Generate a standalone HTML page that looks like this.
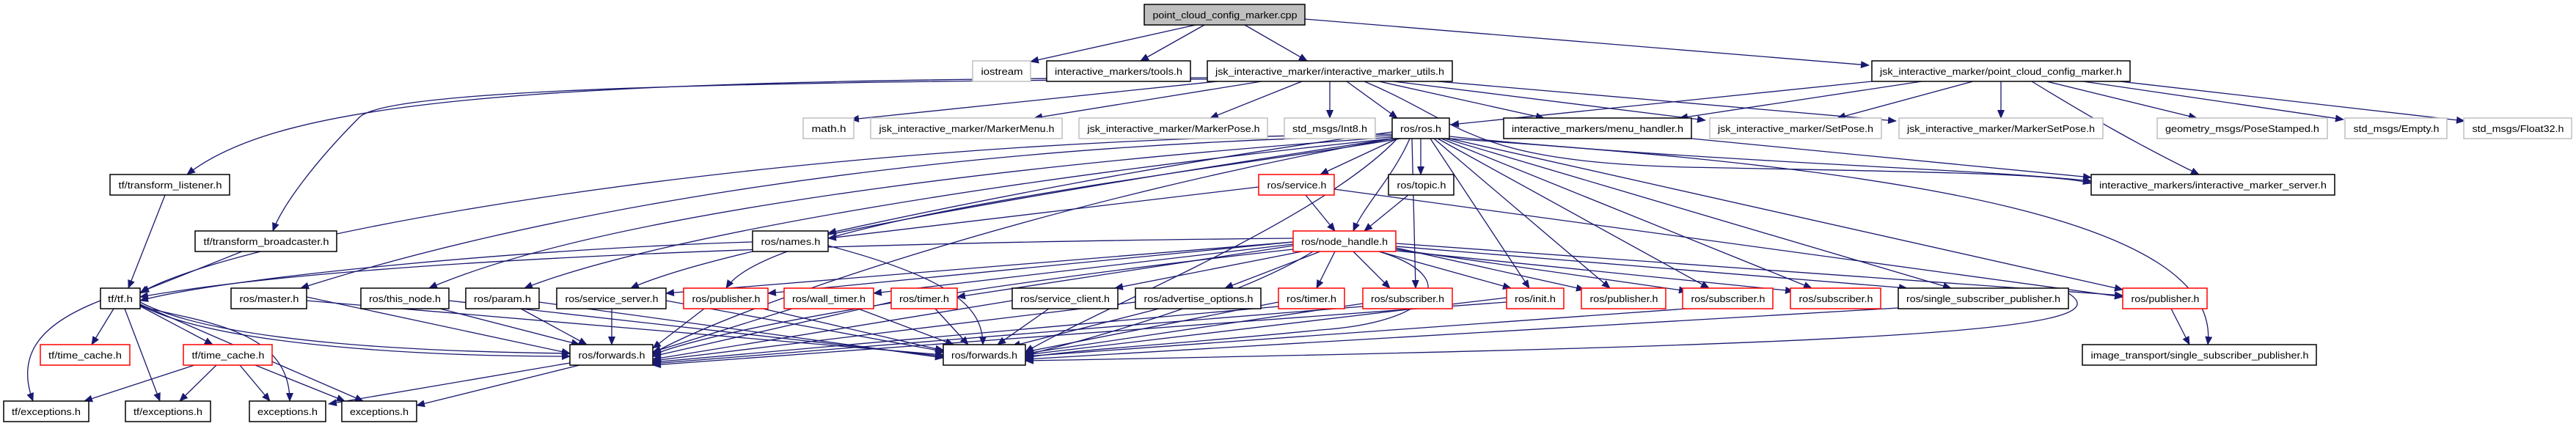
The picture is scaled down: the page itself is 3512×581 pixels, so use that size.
<!DOCTYPE html>
<html><head><meta charset="utf-8"><style>
html,body{margin:0;padding:0;background:#fff;}
svg{display:block}
text{font-family:"Liberation Sans",sans-serif;font-size:13px;fill:#000}
.e{fill:none;stroke:#191970;stroke-width:1.3;marker-end:url(#ar)}
.k{fill:#fff;stroke:#000;stroke-width:1.5}
.r{fill:#fff;stroke:#ff0000;stroke-width:1.5}
.g{fill:#fff;stroke:#bfbfbf;stroke-width:1.5}
</style></head><body>
<svg width="3512" height="581" viewBox="0 0 3512 581" xmlns="http://www.w3.org/2000/svg">
<defs><marker id="ar" markerWidth="12" markerHeight="10" refX="11" refY="5" orient="auto" markerUnits="userSpaceOnUse"><path d="M0,0 L12,5 L0,10 z" fill="#191970"/></marker></defs>
<g>
<!-- top edges -->
<path class="e" d="M1630,34 L1405,84"/>
<path class="e" d="M1642,34 L1555,83"/>
<path class="e" d="M1697,34 L1782,83"/>
<path class="e" d="M1779,26 L2548,89"/>
<path class="e" d="M1646,106 C700,108 380,140 255,238"/>
<path class="e" d="M1646,108 C800,112 520,130 490,160 C430,220 385,280 372,315"/>
<path class="e" d="M1660,111 L1160,163"/>
<path class="e" d="M1720,111 L1410,161"/>
<path class="e" d="M1775,111 L1650,161"/>
<path class="e" d="M1813,111 L1813,161"/>
<path class="e" d="M1836,111 L1905,161"/>
<path class="e" d="M1880,111 L2105,161"/>
<path class="e" d="M1900,111 L2325,164"/>
<path class="e" d="M1960,111 L2585,165"/>
<path class="e" d="M1860,111 C2000,170 2000,220 2300,228 C2600,234 2800,236 2851,250"/>
<path class="e" d="M2552,111 L1978,170"/>
<path class="e" d="M2620,111 L2290,161"/>
<path class="e" d="M2690,111 L2505,161"/>
<path class="e" d="M2728,111 L2728,161"/>
<path class="e" d="M2790,111 L2995,161"/>
<path class="e" d="M2840,111 L3195,163"/>
<path class="e" d="M2890,111 L3360,165"/>
<path class="e" d="M2770,111 C2850,160 2920,200 2998,238"/>
<path class="e" d="M2306,189 L2851,242"/>
<!-- tf -->
<path class="e" d="M225,266 L175,393"/>
<path class="e" d="M330,343 L192,398"/>
<path class="e" d="M155,421 L125,470"/>
<path class="e" d="M190,417 L290,470"/>
<path class="e" d="M137,410 C60,440 20,480 45,547"/>
<path class="e" d="M170,421 L218,547"/>
<path class="e" d="M191,418 C280,440 395,450 395,547"/>
<path class="e" d="M191,415 L495,547"/>
<path class="e" d="M191,412 C300,470 600,480 777,482"/>
<path class="e" d="M191,416 C300,474 600,486 777,486"/>
<path class="e" d="M265,498 L115,547"/>
<path class="e" d="M295,498 L245,547"/>
<path class="e" d="M327,498 L368,547"/>
<path class="e" d="M348,498 L470,547"/>
<path class="e" d="M777,495 L448,551"/>
<path class="e" d="M790,498 L568,553"/>
<!-- ros.h -->
<path class="e" d="M1905,189 L1800,238"/>
<path class="e" d="M1937,189 L1937,238"/>
<path class="e" d="M1922,189 C1900,240 1860,280 1845,315"/>
<path class="e" d="M1898,180 C1600,220 1300,280 1129,318"/>
<path class="e" d="M1898,185 C1200,200 700,300 410,393"/>
<path class="e" d="M1898,187 C1300,230 800,300 585,393"/>
<path class="e" d="M1898,189 C1400,240 900,320 715,393"/>
<path class="e" d="M1898,189 C1500,250 1000,330 860,393"/>
<path class="e" d="M1910,189 C1600,240 1050,300 990,393"/>
<path class="e" d="M1925,189 L1930,393"/>
<path class="e" d="M1950,189 L2085,393"/>
<path class="e" d="M1955,189 L2195,393"/>
<path class="e" d="M1960,189 L2330,393"/>
<path class="e" d="M1965,189 L2470,393"/>
<path class="e" d="M1970,189 L2660,393"/>
<path class="e" d="M1976,189 L2894,395"/>
<path class="e" d="M1976,189 C2600,230 3030,300 3010,470"/>
<path class="e" d="M1976,186 C2300,220 2700,230 2851,247"/>
<path class="e" d="M1898,183 C1000,190 300,330 191,400"/>
<path class="e" d="M1898,189 C1400,280 1000,420 890,482"/>
<path class="e" d="M1905,189 C1800,300 1500,420 1398,480"/>
<!-- service/topic -->
<path class="e" d="M1780,266 L1820,315"/>
<path class="e" d="M1716,255 L1129,325"/>
<path class="e" d="M1819,258 L2894,405"/>
<path class="e" d="M1920,266 L1860,315"/>
<!-- node_handle -->
<path class="e" d="M1763,330 L1047,400"/>
<path class="e" d="M1763,333 L1191,400"/>
<path class="e" d="M1763,335 L1305,405"/>
<path class="e" d="M1775,343 L1520,393"/>
<path class="e" d="M1800,343 L1670,393"/>
<path class="e" d="M1820,343 L1795,393"/>
<path class="e" d="M1845,343 L1895,393"/>
<path class="e" d="M1880,343 L2060,393"/>
<path class="e" d="M1903,338 L2160,395"/>
<path class="e" d="M1903,340 L2300,397"/>
<path class="e" d="M1903,342 L2445,397"/>
<path class="e" d="M1903,332 L2894,403"/>
<path class="e" d="M1903,336 L2600,393"/>
<path class="e" d="M1763,330 L908,400"/>
<path class="e" d="M1763,325 C1200,330 500,350 191,405"/>
<path class="e" d="M1763,340 C1400,380 1000,440 890,484"/>
<path class="e" d="M1790,343 C1700,400 1500,460 1398,484"/>
<path class="e" d="M1880,343 C2000,380 1950,440 1800,450 C1600,470 1450,478 1398,488"/>
<!-- names -->
<path class="e" d="M1026,330 C700,340 300,380 191,410"/>
<path class="e" d="M1129,335 C1300,380 1340,420 1340,470"/>
<!-- level 5 to forwards -->
<path class="e" d="M418,405 L777,482"/>
<path class="e" d="M418,410 L1286,484"/>
<path class="e" d="M600,421 L790,470"/>
<path class="e" d="M612,410 L1286,486"/>
<path class="e" d="M710,421 L800,470"/>
<path class="e" d="M735,412 L1286,488"/>
<path class="e" d="M834,421 L834,470"/>
<path class="e" d="M908,410 L1290,480"/>
<path class="e" d="M960,421 L890,475"/>
<path class="e" d="M1040,421 L1286,478"/>
<path class="e" d="M1080,421 L890,480"/>
<path class="e" d="M1170,421 L1300,470"/>
<path class="e" d="M1215,412 L890,486"/>
<path class="e" d="M1275,421 L1320,470"/>
<path class="e" d="M1380,410 L890,490"/>
<path class="e" d="M1430,421 L1360,470"/>
<path class="e" d="M1548,412 L890,492"/>
<path class="e" d="M1580,421 L1380,472"/>
<path class="e" d="M1743,412 L1398,480"/>
<path class="e" d="M1743,418 L890,494"/>
<path class="e" d="M1858,414 L1398,482"/>
<path class="e" d="M1858,418 L890,496"/>
<path class="e" d="M2054,406 L1398,484"/>
<path class="e" d="M2054,412 L890,498"/>
<path class="e" d="M2300,421 L1398,486"/>
<path class="e" d="M2588,420 L1398,490"/>
<path class="e" d="M2820,400 C2900,450 2600,470 1398,492"/>
<path class="e" d="M2960,421 L2985,470"/>
</g>
<!-- nodes -->
<g>
<rect x="1560" y="6" width="219" height="28" fill="#bfbfbf" stroke="#000" stroke-width="1.5"/><text x="1670" y="25" text-anchor="middle" textLength="197" lengthAdjust="spacingAndGlyphs">point_cloud_config_marker.cpp</text>
<rect class="g" x="1326" y="83" width="79" height="28"/><text x="1366" y="102" text-anchor="middle" textLength="57" lengthAdjust="spacingAndGlyphs">iostream</text>
<rect class="k" x="1427" y="83" width="196" height="28"/><text x="1525" y="102" text-anchor="middle" textLength="174" lengthAdjust="spacingAndGlyphs">interactive_markers/tools.h</text>
<rect class="k" x="1646" y="83" width="334" height="28"/><text x="1813" y="102" text-anchor="middle" textLength="312" lengthAdjust="spacingAndGlyphs">jsk_interactive_marker/interactive_marker_utils.h</text>
<rect class="k" x="2552" y="83" width="352" height="28"/><text x="2728" y="102" text-anchor="middle" textLength="330" lengthAdjust="spacingAndGlyphs">jsk_interactive_marker/point_cloud_config_marker.h</text>
<rect class="g" x="1095" y="161" width="69" height="28"/><text x="1130" y="180" text-anchor="middle" textLength="47" lengthAdjust="spacingAndGlyphs">math.h</text>
<rect class="g" x="1187" y="161" width="261" height="28"/><text x="1318" y="180" text-anchor="middle" textLength="239" lengthAdjust="spacingAndGlyphs">jsk_interactive_marker/MarkerMenu.h</text>
<rect class="g" x="1471" y="161" width="257" height="28"/><text x="1600" y="180" text-anchor="middle" textLength="235" lengthAdjust="spacingAndGlyphs">jsk_interactive_marker/MarkerPose.h</text>
<rect class="g" x="1751" y="161" width="124" height="28"/><text x="1813" y="180" text-anchor="middle" textLength="102" lengthAdjust="spacingAndGlyphs">std_msgs/Int8.h</text>
<rect class="k" x="1898" y="161" width="78" height="28"/><text x="1937" y="180" text-anchor="middle" textLength="56" lengthAdjust="spacingAndGlyphs">ros/ros.h</text>
<rect class="k" x="2050" y="161" width="256" height="28"/><text x="2178" y="180" text-anchor="middle" textLength="234" lengthAdjust="spacingAndGlyphs">interactive_markers/menu_handler.h</text>
<rect class="g" x="2331" y="161" width="234" height="28"/><text x="2448" y="180" text-anchor="middle" textLength="212" lengthAdjust="spacingAndGlyphs">jsk_interactive_marker/SetPose.h</text>
<rect class="g" x="2589" y="161" width="278" height="28"/><text x="2728" y="180" text-anchor="middle" textLength="256" lengthAdjust="spacingAndGlyphs">jsk_interactive_marker/MarkerSetPose.h</text>
<rect class="g" x="2941" y="161" width="232" height="28"/><text x="3057" y="180" text-anchor="middle" textLength="210" lengthAdjust="spacingAndGlyphs">geometry_msgs/PoseStamped.h</text>
<rect class="g" x="3197" y="161" width="139" height="28"/><text x="3267" y="180" text-anchor="middle" textLength="117" lengthAdjust="spacingAndGlyphs">std_msgs/Empty.h</text>
<rect class="g" x="3359" y="161" width="147" height="28"/><text x="3433" y="180" text-anchor="middle" textLength="125" lengthAdjust="spacingAndGlyphs">std_msgs/Float32.h</text>
<rect class="k" x="150" y="238" width="163" height="28"/><text x="232" y="257" text-anchor="middle" textLength="141" lengthAdjust="spacingAndGlyphs">tf/transform_listener.h</text>
<rect class="r" x="1716" y="238" width="103" height="28"/><text x="1768" y="257" text-anchor="middle" textLength="81" lengthAdjust="spacingAndGlyphs">ros/service.h</text>
<rect class="k" x="1893" y="238" width="89" height="28"/><text x="1938" y="257" text-anchor="middle" textLength="67" lengthAdjust="spacingAndGlyphs">ros/topic.h</text>
<rect class="k" x="2851" y="238" width="332" height="28"/><text x="3017" y="257" text-anchor="middle" textLength="310" lengthAdjust="spacingAndGlyphs">interactive_markers/interactive_marker_server.h</text>
<rect class="k" x="266" y="315" width="193" height="28"/><text x="363" y="334" text-anchor="middle" textLength="171" lengthAdjust="spacingAndGlyphs">tf/transform_broadcaster.h</text>
<rect class="k" x="1026" y="315" width="103" height="28"/><text x="1078" y="334" text-anchor="middle" textLength="81" lengthAdjust="spacingAndGlyphs">ros/names.h</text>
<rect class="r" x="1763" y="315" width="140" height="28"/><text x="1833" y="334" text-anchor="middle" textLength="118" lengthAdjust="spacingAndGlyphs">ros/node_handle.h</text>
<rect class="k" x="137" y="393" width="54" height="28"/><text x="164" y="412" text-anchor="middle" textLength="34" lengthAdjust="spacingAndGlyphs">tf/tf.h</text>
<rect class="k" x="315" y="393" width="103" height="28"/><text x="367" y="412" text-anchor="middle" textLength="81" lengthAdjust="spacingAndGlyphs">ros/master.h</text>
<rect class="k" x="492" y="393" width="120" height="28"/><text x="552" y="412" text-anchor="middle" textLength="98" lengthAdjust="spacingAndGlyphs">ros/this_node.h</text>
<rect class="k" x="635" y="393" width="100" height="28"/><text x="685" y="412" text-anchor="middle" textLength="78" lengthAdjust="spacingAndGlyphs">ros/param.h</text>
<rect class="k" x="759" y="393" width="149" height="28"/><text x="834" y="412" text-anchor="middle" textLength="127" lengthAdjust="spacingAndGlyphs">ros/service_server.h</text>
<rect class="r" x="932" y="393" width="115" height="28"/><text x="990" y="412" text-anchor="middle" textLength="93" lengthAdjust="spacingAndGlyphs">ros/publisher.h</text>
<rect class="r" x="1069" y="393" width="122" height="28"/><text x="1130" y="412" text-anchor="middle" textLength="100" lengthAdjust="spacingAndGlyphs">ros/wall_timer.h</text>
<rect class="r" x="1215" y="393" width="90" height="28"/><text x="1260" y="412" text-anchor="middle" textLength="68" lengthAdjust="spacingAndGlyphs">ros/timer.h</text>
<rect class="k" x="1380" y="393" width="144" height="28"/><text x="1452" y="412" text-anchor="middle" textLength="122" lengthAdjust="spacingAndGlyphs">ros/service_client.h</text>
<rect class="k" x="1548" y="393" width="171" height="28"/><text x="1634" y="412" text-anchor="middle" textLength="149" lengthAdjust="spacingAndGlyphs">ros/advertise_options.h</text>
<rect class="r" x="1743" y="393" width="90" height="28"/><text x="1788" y="412" text-anchor="middle" textLength="68" lengthAdjust="spacingAndGlyphs">ros/timer.h</text>
<rect class="r" x="1858" y="393" width="122" height="28"/><text x="1919" y="412" text-anchor="middle" textLength="100" lengthAdjust="spacingAndGlyphs">ros/subscriber.h</text>
<rect class="r" x="2054" y="393" width="78" height="28"/><text x="2093" y="412" text-anchor="middle" textLength="56" lengthAdjust="spacingAndGlyphs">ros/init.h</text>
<rect class="r" x="2156" y="393" width="115" height="28"/><text x="2214" y="412" text-anchor="middle" textLength="93" lengthAdjust="spacingAndGlyphs">ros/publisher.h</text>
<rect class="r" x="2294" y="393" width="123" height="28"/><text x="2356" y="412" text-anchor="middle" textLength="101" lengthAdjust="spacingAndGlyphs">ros/subscriber.h</text>
<rect class="r" x="2441" y="393" width="123" height="28"/><text x="2503" y="412" text-anchor="middle" textLength="101" lengthAdjust="spacingAndGlyphs">ros/subscriber.h</text>
<rect class="k" x="2588" y="393" width="232" height="28"/><text x="2704" y="412" text-anchor="middle" textLength="210" lengthAdjust="spacingAndGlyphs">ros/single_subscriber_publisher.h</text>
<rect class="r" x="2894" y="393" width="115" height="28"/><text x="2952" y="412" text-anchor="middle" textLength="93" lengthAdjust="spacingAndGlyphs">ros/publisher.h</text>
<rect class="r" x="55" y="470" width="122" height="28"/><text x="116" y="489" text-anchor="middle" textLength="100" lengthAdjust="spacingAndGlyphs">tf/time_cache.h</text>
<rect class="r" x="250" y="470" width="121" height="28"/><text x="311" y="489" text-anchor="middle" textLength="99" lengthAdjust="spacingAndGlyphs">tf/time_cache.h</text>
<rect class="k" x="777" y="470" width="113" height="28"/><text x="834" y="489" text-anchor="middle" textLength="91" lengthAdjust="spacingAndGlyphs">ros/forwards.h</text>
<rect class="k" x="1286" y="470" width="112" height="28"/><text x="1342" y="489" text-anchor="middle" textLength="90" lengthAdjust="spacingAndGlyphs">ros/forwards.h</text>
<rect class="k" x="2839" y="470" width="319" height="28"/><text x="2999" y="489" text-anchor="middle" textLength="297" lengthAdjust="spacingAndGlyphs">image_transport/single_subscriber_publisher.h</text>
<rect class="k" x="5" y="547" width="116" height="28"/><text x="63" y="566" text-anchor="middle" textLength="94" lengthAdjust="spacingAndGlyphs">tf/exceptions.h</text>
<rect class="k" x="171" y="547" width="116" height="28"/><text x="229" y="566" text-anchor="middle" textLength="94" lengthAdjust="spacingAndGlyphs">tf/exceptions.h</text>
<rect class="k" x="340" y="547" width="104" height="28"/><text x="392" y="566" text-anchor="middle" textLength="82" lengthAdjust="spacingAndGlyphs">exceptions.h</text>
<rect class="k" x="466" y="547" width="102" height="28"/><text x="517" y="566" text-anchor="middle" textLength="80" lengthAdjust="spacingAndGlyphs">exceptions.h</text>
</g>
</svg>
</body></html>
